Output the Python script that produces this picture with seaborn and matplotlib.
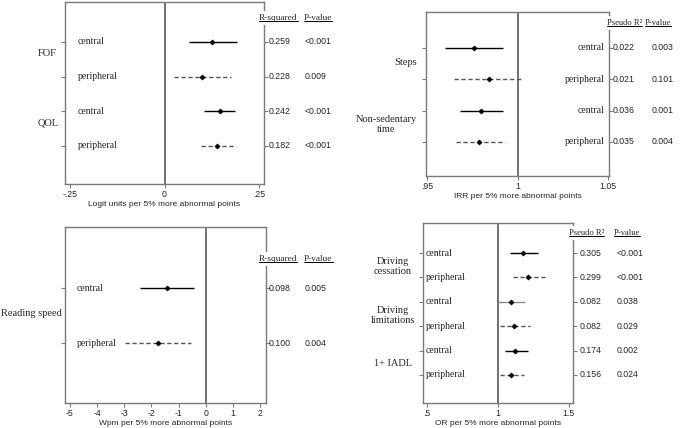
import pandas as pd
import matplotlib
matplotlib.use("Agg")
import matplotlib.pyplot as plt
import matplotlib.transforms as mtrans
from matplotlib.lines import Line2D
import seaborn as sns

# --- data ---
# A: fear of falling / quality of life (logit units)
a_group = ["FOF", "FOF", "QOL", "QOL"]
a_loc = ["central", "peripheral", "central", "peripheral"]
a_est = [0.126, 0.100, 0.147, 0.140]
a_lo = [0.066, 0.026, 0.105, 0.097]
a_hi = [0.192, 0.176, 0.187, 0.190]
a_r2 = ["0.259", "0.228", "0.242", "0.182"]
a_p = ["<0.001", "0.009", "<0.001", "<0.001"]

# B: physical activity (IRR)
b_group = ["Steps", "Steps", "Non-sedentary\ntime", "Non-sedentary\ntime"]
b_loc = ["central", "peripheral", "central", "peripheral"]
b_est = [0.976, 0.984, 0.980, 0.979]
b_lo = [0.960, 0.965, 0.968, 0.966]
b_hi = [0.992, 1.003, 0.992, 0.993]
b_r2 = ["0.022", "0.021", "0.036", "0.035"]
b_p = ["0.003", "0.101", "0.001", "0.004"]

# C: reading speed (wpm)
c_group = ["Reading speed", "Reading speed"]
c_loc = ["central", "peripheral"]
c_est = [-1.41, -1.76]
c_lo = [-2.41, -2.97]
c_hi = [-0.42, -0.53]
c_r2 = ["0.098", "0.100"]
c_p = ["0.005", "0.004"]

# D: driving / IADL (OR)
d_group = ["Driving\ncessation", "Driving\ncessation", "Driving\nlimitations",
           "Driving\nlimitations", "1+ IADL", "1+ IADL"]
d_loc = ["central", "peripheral"] * 3
d_est = [1.178, 1.211, 1.094, 1.110, 1.122, 1.094]
d_lo = [1.085, 1.103, 1.000, 1.014, 1.047, 1.014]
d_hi = [1.286, 1.343, 1.190, 1.223, 1.209, 1.183]
d_r2 = ["0.305", "0.299", "0.082", "0.082", "0.174", "0.156"]
d_p = ["<0.001", "<0.001", "0.038", "0.029", "0.002", "0.024"]

sns.set_style("white")
plt.rcParams["font.family"] = ["Liberation Sans", "DejaVu Sans"]
SERIF = ["Liberation Serif", "DejaVu Serif"]

W, H = 683, 428
fig = plt.figure(figsize=(W / 100, H / 100), dpi=100)

SPINE = "#7a7a7a"
REF = "#4a4a4a"
STYLE = {"central": dict(color="black", ls="-"),
         "peripheral": dict(color="#555555", ls=(0, (3.1, 1.9)))}

headers = []


def forest(box, group, loc, est, lo, hi, r2, p, ref, xlim, ticks, ticklabels,
           ylim, xlabel, head, head_x, head_y, head_fs, val_x, row_x, row_ha,
           grp_x, grp_ha, grp_dy, colors=None):
    l, t, r, b = box
    ax = fig.add_axes([l / W, 1 - b / H, (r - l) / W, (b - t) / H])
    df = pd.DataFrame({"group": group, "loc": loc, "est": est, "lo": lo,
                       "hi": hi, "r2": r2, "p": p})
    df["row"] = range(1, len(df) + 1)

    ax.axvline(ref, color=REF, lw=1.1, zorder=1)
    for i, row in df.iterrows():
        st = dict(STYLE[row["loc"]])
        if colors is not None and colors[i] is not None:
            st["color"] = colors[i]
        ax.hlines(row["row"], row["lo"], row["hi"], colors=st["color"],
                  linestyles=[st["ls"]], lw=1.0, zorder=3)
    sns.scatterplot(data=df, x="est", y="row", marker="D", s=7,
                    color="black", edgecolor="black", linewidth=0.4,
                    legend=False, zorder=5, ax=ax)

    ax.set_xlim(*xlim)
    ax.set_ylim(*ylim)
    ax.set_xticks(ticks)
    ax.set_xticklabels(ticklabels)
    ax.set_yticks(df["row"])
    ax.set_yticklabels([])
    ax.set_ylabel("")
    ax.set_xlabel(xlabel, fontsize=6, labelpad=1.5)
    ax.tick_params(axis="x", length=3, width=0.8, color=SPINE, pad=1.5,
                   labelsize=6.3, bottom=True)
    ax.tick_params(axis="y", length=3, width=0.8, color=SPINE, left=True,
                   right=True)
    for s in ax.spines.values():
        s.set_color(SPINE)
        s.set_linewidth(1.0)

    ty = ax.get_yaxis_transform()
    for _, row in df.iterrows():
        ax.text(row_x, row["row"], row["loc"], transform=ty, ha=row_ha,
                va="center", fontsize=7, family=SERIF)
        ax.text(val_x[0], row["row"], row["r2"], transform=ty, ha="left",
                va="center", fontsize=6.3)
        ax.text(val_x[1], row["row"], row["p"], transform=ty, ha="left",
                va="center", fontsize=6.3)
    for g, sub in df.groupby("group", sort=False):
        ax.text(grp_x, sub["row"].mean() + grp_dy, g, transform=ty,
                ha=grp_ha, va="center", fontsize=7.5, family=SERIF,
                multialignment="center", linespacing=1.1)
    for k, (txt, hx) in enumerate(zip(head, head_x)):
        # the first header sits over the right spine and breaks it
        box_kw = dict(facecolor="white", edgecolor="none", pad=2) if k == 0 else None
        h = ax.text(hx, head_y, txt, transform=ty, ha="left", va="center",
                    fontsize=head_fs, family=SERIF, zorder=6, bbox=box_kw)
        headers.append(h)
    return ax


forest((65, 2, 264, 184), a_group, a_loc, a_est, a_lo, a_hi, a_r2, a_p,
       0, (-0.263, 0.263), [-0.25, 0, 0.25], ["-.25", "0", ".25"],
       (5.1, -0.15), "Logit units per 5% more abnormal points",
       ["R-squared", "P-value"], [0.975, 1.20], 0.31, 6.7, [1.025, 1.206],
       0.065, "left", -0.136, "left", -0.17)

forest((426, 12, 609, 176), b_group, b_loc, b_est, b_lo, b_hi, b_r2, b_p,
       1, (0.9495, 1.0505), [0.95, 1, 1.05], [".95", "1", "1.05"],
       (5.09, -0.15), "IRR per 5% more abnormal points",
       ["Pseudo R²", "P-value"], [0.99, 1.195], 0.20, 6.1, [1.022, 1.235],
       0.978, "right", -0.05, "right", -0.05)

forest((65, 227, 266, 403), c_group, c_loc, c_est, c_lo, c_hi, c_r2, c_p,
       0, (-5.18, 2.22), list(range(-5, 3)), [str(v) for v in range(-5, 3)],
       (3.09, -0.11), "Wpm per 5% more abnormal points",
       ["R-squared", "P-value"], [0.965, 1.19], 0.47, 6.7, [1.015, 1.194],
       0.06, "left", -0.015, "right", -0.03)

forest((423, 223, 573, 403), d_group, d_loc, d_est, d_lo, d_hi, d_r2, d_p,
       1, (0.47, 1.53), [0.5, 1, 1.5], [".5", "1", "1.5"],
       (7.15, -0.23), "OR per 5% more abnormal points",
       ["Pseudo R²", "P-value"], [0.973, 1.273], 0.18, 6.1, [1.047, 1.293],
       0.02, "left", -0.2, "center", 0.05,
       colors=[None, None, "#8a8a8a", None, None, None])

# underline the column headers
fig.canvas.draw()
rend = fig.canvas.get_renderer()
for h in headers:
    bb = h.get_window_extent(rend)
    fig.add_artist(Line2D([bb.x0, bb.x1], [bb.y0 + 1, bb.y0 + 1],
                          transform=mtrans.IdentityTransform(),
                          color="black", lw=0.7))

fig.savefig("out.png", dpi=100, facecolor="white")
